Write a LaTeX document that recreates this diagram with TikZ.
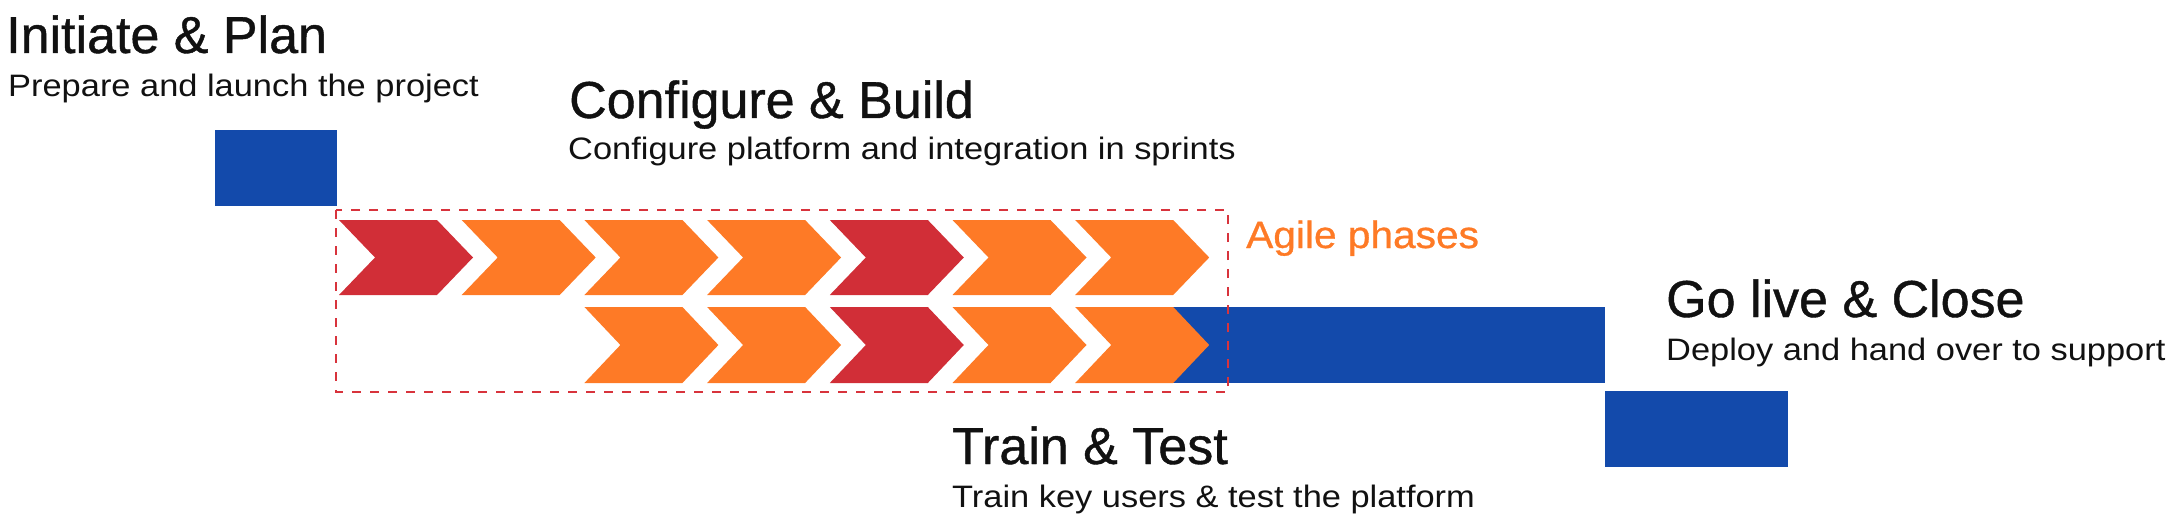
\documentclass[tikz,border=0pt]{standalone}
\usepackage{fontspec}
\setmainfont{Liberation Sans}
\newfontfamily\titlefont[FakeBold=0.8]{Liberation Sans}
\newfontfamily\subfont[FakeStretch=1.11]{Liberation Sans}
\newfontfamily\agilefont[FakeStretch=1.07,FakeBold=0.8]{Liberation Sans}
\definecolor{pblue}{RGB}{19,74,171}
\definecolor{pred}{RGB}{209,46,55}
\definecolor{porange}{RGB}{254,122,38}
\definecolor{pdash}{RGB}{216,51,60}
\definecolor{ptext}{RGB}{17,17,17}
\tikzset{
  titletext/.style={inner sep=0pt, anchor=base west, text=ptext,
    font=\titlefont\fontsize{52}{60}\selectfont},
  subtext/.style={inner sep=0pt, anchor=base west, text=ptext,
    font=\subfont\fontsize{31}{36}\selectfont},
  agiletext/.style={inner sep=0pt, anchor=base west, text=porange,
    font=\agilefont\fontsize{38}{44}\selectfont},
  bluebox/.style={fill=pblue},
  agilebox/.style={draw=pdash, line width=2.6pt, dash pattern=on 9pt off 9pt}
}
\newcommand{\chev}[4]{% x, top, bottom, colour
  \fill[#4] (#1,#2) -- ({#1+98},#2) -- ({#1+134},{(#2+#3)/2}) -- ({#1+98},#3)
    -- (#1,#3) -- ({#1+36},{(#2+#3)/2}) -- cycle;}
\begin{document}
\begin{tikzpicture}[x=1pt,y=-1pt]
\useasboundingbox (0,0) rectangle (2177,524);
% blue phase blocks
\fill[bluebox] (215,130) rectangle (337,206);
\fill[bluebox] (1150,307) rectangle (1605,383);
\fill[bluebox] (1605,391) rectangle (1788,467);
% agile chevrons, row 1
\foreach \k/\c in {0/pred,1/porange,2/porange,3/porange,4/pred,5/porange,6/porange}{
  \chev{339+122.7*\k}{220}{295}{\c}
}
% agile chevrons, row 2
\foreach \k/\c in {2/porange,3/porange,4/pred,5/porange,6/porange}{
  \chev{339+122.7*\k}{307}{383}{\c}
}
% dashed agile frame
\draw[agilebox] (336,210) rectangle (1228,392);
% texts
\node[titletext] (initT) at (6,53) {Initiate \& Plan};
\node[subtext] (initS) at (8,97) {Prepare and launch the project};
\node[titletext] (confT) at (569,118) {Configure \& Build};
\node[subtext] (confS) at (568,160) {Configure platform and integration in sprints};
\node[agiletext] (agile) at (1246,248) {Agile phases};
\node[titletext] (goT) at (1666,317) {Go live \& Close};
\node[subtext] (goS) at (1666,360) {Deploy and hand over to support};
\node[titletext] (trT) at (952,464) {Train \& Test};
\node[subtext] (trS) at (952,507) {Train key users \& test the platform};
\end{tikzpicture}
\end{document}
